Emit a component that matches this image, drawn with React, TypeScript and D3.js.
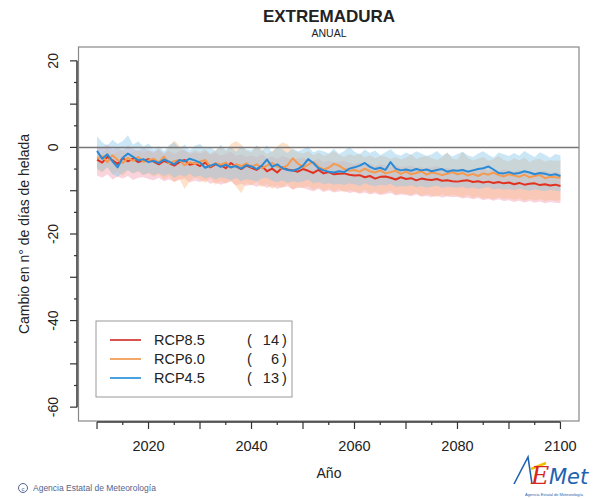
import React from "react";
import * as d3 from "d3";

// años 2010..2100
const years = d3.range(2010, 2101);

// medias por escenario (cambio en nº de días de helada)
const rcp85 = [
  -2.8, -3.5, -2.2, -3.0, -3.8, -2.5, -3.2, -2.6, -3.4, -3.0,
  -2.7, -3.3, -3.9, -3.1, -3.6, -4.2, -3.4, -2.9, -4.0, -3.7,
  -4.3, -3.5, -4.6, -3.9, -4.1, -4.8, -3.6, -4.4, -5.0, -4.2,
  -4.7, -5.2, -4.3, -5.5, -4.9, -5.8, -4.6, -5.1, -5.3, -5.6,
  -5.0, -5.4, -5.9, -5.2, -6.0, -5.7, -6.2, -6.1, -6.0, -6.3,
  -6.5, -6.4, -6.9, -6.6, -7.2, -6.8, -6.7, -7.0, -7.4, -6.9,
  -7.3, -7.1, -7.6, -7.2, -7.4, -7.5, -7.3, -7.7, -7.6, -7.8,
  -7.9, -7.7, -7.6, -8.0, -7.8, -8.1, -7.9, -8.2, -8.0, -8.3,
  -8.1, -8.5, -8.2, -8.6, -8.4, -8.3, -8.7, -8.5, -8.8, -8.6,
  -8.9,
];
const rcp60 = [
  -2.6, -2.0, -3.4, -1.8, -2.9, -3.6, -2.4, -3.1, -2.2, -3.3,
  -3.0, -2.6, -3.5, -2.1, -3.7, -3.2, -2.9, -4.1, -3.4, -3.8,
  -3.3, -2.9, -4.4, -3.6, -4.0, -3.5, -4.7, -3.9, -4.3, -3.7,
  -4.5, -3.9, -4.8, -4.2, -3.6, -4.4, -4.9, -4.1, -2.5, -3.7,
  -4.6, -4.0, -3.3, -4.5, -5.1, -4.7, -3.8, -4.2, -5.0, -5.4,
  -5.2, -5.6, -4.9, -5.5, -5.8, -5.3, -6.0, -5.7, -5.4, -6.1,
  -5.6, -6.2, -5.9, -5.5, -6.3, -5.8, -6.0, -6.4, -6.1, -5.7,
  -6.2, -5.9, -6.5, -6.1, -6.6, -6.0, -6.3, -5.8, -6.4, -6.7,
  -6.2, -6.5, -6.8, -6.3, -6.9, -6.6, -6.4, -7.1, -6.8, -6.9,
  -7.0,
];
const rcp45 = [
  -0.8, -2.6, -1.6, -3.2, -4.6, -2.4, -1.4, -2.2, -3.0, -2.7,
  -3.4, -3.1, -3.6, -2.8, -3.3, -3.9, -2.9, -3.2, -2.6, -3.0,
  -3.5, -4.7, -4.2, -3.8, -4.5, -4.0, -4.6, -4.3, -4.9, -4.1,
  -4.4, -5.0, -4.2, -2.8, -4.5, -3.9, -4.8, -5.2, -5.4, -5.0,
  -4.2, -2.7, -3.6, -4.8, -5.3, -5.6, -5.8, -5.5, -5.7, -4.9,
  -4.6, -4.2, -3.6, -4.5, -5.0, -4.7, -5.2, -3.4, -4.9, -5.3,
  -5.1, -5.4, -5.0, -5.3, -5.1, -5.5, -5.2, -5.0, -5.6, -5.3,
  -5.4, -5.2, -5.6, -5.3, -5.0, -4.8, -4.4, -5.1, -5.9, -6.0,
  -5.7, -6.1, -5.9, -5.5, -5.8, -6.2, -5.9, -6.1, -6.4, -6.2,
  -6.6,
];

// bandas de dispersión
const rcp85Hi = [
  0.4, -0.2, 0.8, -0.5, 0.1, -0.8, 0.5, -0.3, -0.9, 0.0,
  -0.6, -1.0, -0.4, -1.3, -0.7, -1.5, -0.9, -0.5, -1.6, -1.1,
  -1.4, -0.8, -1.7, -1.2, -1.9, -1.5, -1.0, -2.0, -1.6, -2.2,
  -1.8, -2.3, -1.6, -2.5, -2.1, -2.7, -2.0, -2.4, -2.8, -2.6,
  -2.3, -2.9, -3.2, -2.7, -3.4, -3.0, -3.5, -3.3, -3.1, -3.6,
  -3.8, -3.5, -4.0, -3.7, -4.3, -3.9, -4.1, -4.4, -4.0, -4.6,
  -4.4, -4.2, -4.7, -4.5, -4.8, -4.6, -4.3, -4.9, -4.7, -5.0,
  -5.1, -4.8, -5.2, -5.0, -5.3, -4.9, -5.4, -5.2, -5.5, -5.1,
  -5.4, -5.6, -5.3, -5.7, -5.5, -5.8, -5.6, -5.4, -5.9, -5.7,
  -5.9,
];
const rcp85Lo = [
  -6.5, -7.0, -6.2, -7.4, -6.8, -7.2, -6.6, -7.5, -7.0, -6.9,
  -7.3, -7.6, -7.0, -7.8, -7.4, -8.0, -7.5, -7.2, -8.1, -7.7,
  -8.0, -7.6, -8.4, -8.1, -8.6, -8.2, -7.9, -8.8, -8.4, -8.9,
  -8.6, -9.1, -8.7, -9.4, -8.9, -9.6, -9.2, -9.0, -9.7, -9.4,
  -9.3, -9.8, -10.1, -9.6, -10.3, -9.9, -10.4, -10.2, -10.0, -10.5,
  -10.3, -10.7, -10.4, -10.9, -10.6, -11.0, -10.8, -10.5, -11.1, -10.9,
  -11.0, -11.3, -10.9, -11.4, -11.2, -11.5, -11.1, -11.6, -11.3, -11.5,
  -11.4, -11.8, -11.6, -12.0, -11.7, -12.2, -11.9, -12.3, -12.0, -12.4,
  -12.2, -12.6, -12.3, -12.7, -12.4, -12.8, -12.5, -12.9, -12.6, -12.8,
  -12.9,
];
const rcp60Hi = [
  -0.8, -1.5, -0.2, -1.8, -0.9, -0.4, -1.6, -1.1, -0.5, -1.3,
  -0.7, -1.4, -0.3, -1.9, 0.2, 1.6, 0.4, -0.8, -1.2, -0.5,
  -1.0, -0.3, -1.5, -0.6, 0.3, -0.9, 0.8, 1.5, 0.6, -0.7,
  -1.2, 0.5, -0.4, -1.6, -0.8, 0.2, 1.2, 0.7, -0.6, -1.1,
  -1.4, -0.8, -1.8, -1.2, -2.0, -1.5, -0.9, -1.7, -2.2, -1.6,
  -2.0, -1.4, -2.3, -1.8, -2.5, -1.9, -2.1, -2.6, -2.2, -2.8,
  -2.4, -1.6, -2.7, -2.2, -1.9, -2.5, -2.9, -2.3, -1.1, -2.6,
  -2.8, -1.0, -2.4, -3.0, -2.6, -2.2, -3.1, -2.7, -2.0, -2.9,
  -3.2, -2.5, -3.0, -2.3, -3.4, -2.8, -2.6, -3.3, -2.9, -3.1,
  -3.0,
];
const rcp60Lo = [
  -5.0, -5.8, -4.6, -6.2, -5.4, -6.6, -5.2, -6.0, -5.6, -6.4,
  -6.0, -6.8, -6.2, -7.4, -6.6, -8.0, -7.2, -9.6, -7.8, -6.9,
  -7.4, -8.2, -7.0, -8.6, -7.8, -8.4, -7.6, -9.0, -10.6, -8.2,
  -8.8, -7.9, -9.2, -8.5, -9.6, -8.8, -9.3, -8.4, -9.8, -9.1,
  -9.4, -8.9, -9.8, -9.2, -10.0, -9.5, -10.2, -9.6, -10.4, -9.9,
  -10.1, -10.5, -9.8, -10.6, -10.2, -10.8, -10.4, -10.0, -10.9, -10.6,
  -10.7, -11.0, -10.5, -11.2, -10.8, -11.1, -11.4, -10.9, -11.3, -11.0,
  -11.2, -11.5, -11.0, -11.7, -11.3, -11.8, -11.6, -12.0, -11.5, -11.9,
  -11.7, -12.1, -11.8, -12.3, -11.9, -12.2, -12.0, -12.4, -12.1, -12.3,
  -12.2,
];
const rcp45Hi = [
  2.6, 1.2, 0.4, 1.8, 0.8, 1.5, 2.8, 0.6, 1.4, 0.2,
  0.9, -0.4, 0.3, -0.8, 0.5, 1.2, -0.2, 0.7, -0.6, 0.4,
  0.8, -0.3, 0.2, -0.9, 0.6, -0.5, 0.1, -1.0, 0.3, -0.4,
  -0.6, 0.4, -0.8, 0.5, -1.1, 0.2, -0.5, -1.3, -0.2, -0.9,
  -0.4, 0.3, -1.2, -0.6, -0.9, -1.4, -0.3, -1.5, -0.8, 0.2,
  -1.0, -1.6, -0.5, -1.3, -0.7, -1.8, -1.1, -0.4, -1.5, -1.9,
  -1.2, -1.7, -0.9, -1.4, -2.0, -1.6, -0.8, -1.9, -1.3, -2.1,
  -1.5, -1.0, -1.8, -2.2, -1.4, -0.9, -1.7, -2.3, -1.2, -1.6,
  -2.0, -1.3, -1.9, -0.8, -1.6, -2.2, -1.1, -1.7, -2.4, -1.5,
  -1.8,
];
const rcp45Lo = [
  -4.8, -5.6, -4.5, -6.2, -6.8, -5.9, -5.2, -6.0, -5.4, -6.3,
  -5.8, -6.4, -5.9, -6.6, -6.1, -7.0, -6.3, -6.7, -6.0, -6.9,
  -6.5, -7.2, -6.8, -7.4, -6.9, -7.1, -7.6, -7.0, -7.8, -7.3,
  -7.5, -7.9, -7.2, -7.0, -7.7, -8.0, -7.6, -8.2, -7.8, -8.1,
  -7.9, -7.4, -8.3, -8.0, -8.5, -8.2, -8.6, -8.4, -8.7, -8.3,
  -8.5, -8.9, -8.3, -8.7, -9.0, -8.6, -8.8, -8.4, -9.1, -8.9,
  -9.0, -8.7, -9.2, -8.9, -9.3, -9.1, -8.8, -9.4, -9.0, -9.2,
  -9.3, -9.0, -9.5, -9.2, -9.6, -9.4, -9.1, -9.7, -9.5, -9.8,
  -9.6, -9.9, -9.5, -9.8, -10.0, -9.7, -9.9, -10.1, -9.8, -10.0,
  -10.1,
];

const legendNames = ["RCP8.5", "RCP6.0", "RCP4.5"];
const legendCounts = [14, 6, 13];
const xTicks = d3.range(2010, 2101, 5);
const xLabels = [2020, 2040, 2060, 2080, 2100];
const yTicks = d3.range(-60, 21, 5);
const yLabels = [20, 0, -20, -40, -60];

const W = 599;
const H = 498;
const font = "'Liberation Sans', Arial, Helvetica, sans-serif";

export default function App() {
  const x = d3.scaleLinear().domain([2006.4, 2103.6]).range([78.5, 579]);
  const y = d3.scaleLinear().domain([-63.2, 23.2]).range([421, 47]);

  const line = (vals: number[]) =>
    d3.line<number>().x((_, i) => x(years[i])).y((v) => y(v))(vals) || "";
  const band = (lo: number[], hi: number[]) =>
    d3
      .area<number>()
      .x((_, i) => x(years[i]))
      .y0((_, i) => y(lo[i]))
      .y1((_, i) => y(hi[i]))(years.map((_, i) => i)) || "";

  const series = [
    { mean: rcp85, lo: rcp85Lo, hi: rcp85Hi, line: "#e2321f", fill: "#f3a0b4", op: 0.45, leg: "#d9534f" },
    { mean: rcp60, lo: rcp60Lo, hi: rcp60Hi, line: "#f59a4e", fill: "#fbb880", op: 0.42, leg: "#f2a868" },
    { mean: rcp45, lo: rcp45Lo, hi: rcp45Hi, line: "#2a8ad6", fill: "#8cc8e8", op: 0.45, leg: "#4aa3e0" },
  ];

  const axisX = y(-63.2) + 1;
  const axisYx = 77;

  return (
    <svg width={W} height={H} style={{ position: "absolute", left: 0, top: 0, background: "#fff" }} fontFamily={font}>
      <rect x={0} y={0} width={W} height={H} fill="#fff" />
      {/* titles */}
      <text x={329} y={22} textAnchor="middle" fontSize={17} fontWeight="bold" fill="#222">EXTREMADURA</text>
      <text x={329} y={37} textAnchor="middle" fontSize={10.5} fill="#222">ANUAL</text>

      {/* bands */}
      {series.map((s, i) => (
        <path key={"b" + i} d={band(s.lo, s.hi)} fill={s.fill} fillOpacity={s.op} stroke="none" />
      ))}

      {/* zero line */}
      <line x1={78.5} x2={579} y1={y(0)} y2={y(0)} stroke="#777" strokeWidth={1.5} />

      {/* mean lines */}
      {series.map((s, i) => (
        <path key={"l" + i} d={line(s.mean)} fill="none" stroke={s.line} strokeWidth={2} strokeLinejoin="round" />
      ))}

      {/* box */}
      <rect x={78.5} y={47} width={500.5} height={374} fill="none" stroke="#888" strokeWidth={1.2} />

      {/* x axis */}
      <line x1={x(2010)} x2={x(2100)} y1={axisX} y2={axisX} stroke="#333" strokeWidth={1.5} />
      {xTicks.map((t) => (
        <line key={"xt" + t} x1={x(t)} x2={x(t)} y1={axisX} y2={axisX + (t % 10 === 0 ? 7 : 3)} stroke="#333" strokeWidth={1.2} />
      ))}
      {xLabels.map((t) => (
        <text key={"xl" + t} x={x(t)} y={451} textAnchor="middle" fontSize={14.5} fill="#222">{t}</text>
      ))}
      <text x={329} y={478} textAnchor="middle" fontSize={14} fill="#222">Año</text>

      {/* y axis */}
      <line x1={axisYx} x2={axisYx} y1={y(-60)} y2={y(20)} stroke="#333" strokeWidth={1.5} />
      {yTicks.map((t) => (
        <line key={"yt" + t} x1={axisYx} x2={axisYx - (t % 10 === 0 ? 7 : 3)} y1={y(t)} y2={y(t)} stroke="#333" strokeWidth={1.2} />
      ))}
      {yLabels.map((t) => (
        <text key={"yl" + t} transform={`translate(58,${y(t)}) rotate(-90)`} textAnchor="middle" fontSize={14} fill="#222">{t}</text>
      ))}
      <text transform={`translate(29,${y(-20)}) rotate(-90)`} textAnchor="middle" fontSize={14} fill="#222">
        Cambio en n° de días de helada
      </text>

      {/* legend */}
      <rect x={96} y={321} width={196} height={76} fill="#fff" stroke="#999" strokeWidth={1} />
      {legendNames.map((n, i) => {
        const ly = 340 + i * 19;
        return (
          <g key={n}>
            <line x1={110} x2={141} y1={ly} y2={ly} stroke={series[i].leg} strokeWidth={2} />
            <text x={154} y={ly + 5} fontSize={14.5} fill="#222">{n}</text>
            <text x={247} y={ly + 5} fontSize={14.5} fill="#222">(</text>
            <text x={279} y={ly + 5} fontSize={14.5} fill="#222" textAnchor="end">{legendCounts[i]}</text>
            <text x={282} y={ly + 5} fontSize={14.5} fill="#222">)</text>
          </g>
        );
      })}

      {/* credits */}
      <circle cx={23} cy={488} r={4.5} fill="none" stroke="#56648c" strokeWidth={1} />
      <text x={23} y={490.5} textAnchor="middle" fontSize={6} fill="#56648c">c</text>
      <text x={33} y={491} fontSize={8.5} fill="#56648c">Agencia Estatal de Meteorología</text>

      {/* logo */}
      <g>
        <path d="M514,484 L528,457 L532,484" fill="none" stroke="#1f62b0" strokeWidth={1.6} />
        <path d="M531,469 L546,463" fill="none" stroke="#f2c200" strokeWidth={2.5} />
        <text x={531} y={484} fontSize={25} fontStyle="italic" fill="#d8281e" fontFamily="'DejaVu Serif', serif">E</text>
        <text x={549} y={484} fontSize={21} fontStyle="italic" fill="#1f62b0" fontFamily="'DejaVu Sans', sans-serif">Met</text>
        <text x={554} y={496} textAnchor="middle" fontSize={4} fill="#1f62b0">Agencia Estatal de Meteorología</text>
      </g>
    </svg>
  );
}
